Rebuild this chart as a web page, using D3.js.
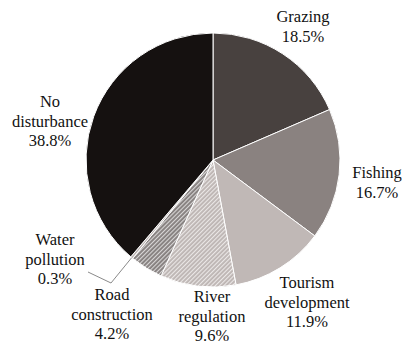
<!DOCTYPE html>
<html><head><meta charset="utf-8">
<script src="https://cdn.jsdelivr.net/npm/d3@7"></script>
<style>body{margin:0;background:#fff}svg{display:block}</style>
</head><body><svg id="c" width="402" height="345"></svg>
<script>
const categories = ["Grazing","Fishing","Tourism development","River regulation","Road construction","Water pollution","No disturbance"];
const values = [18.5,16.7,11.9,9.6,4.2,0.3,38.8];
const labelLines = [["Grazing"],["Fishing"],["Tourism","development"],["River","regulation"],["Road","construction"],["Water","pollution"],["No","disturbance"]];

// layout / style (not data)
const fills = ["#48413f","#8a8280","#c0b8b6","url(#hatchLight)","url(#hatchDark)","#bdb5b3","#151110"];
const labelAnchor = [[303,22],[377,178],[307,288],[212,302],[112,300],[55,245],[50,107]];
const cx = 213, cy = 160, R = 127, lineH = 19.5;

const svg = d3.select("#c");
const defs = svg.append("defs");
function hatch(id, bg){
  const p = defs.append("pattern").attr("id",id).attr("patternUnits","userSpaceOnUse")
    .attr("width",3).attr("height",3).attr("patternTransform","rotate(45)");
  p.append("rect").attr("width",3).attr("height",3).attr("fill",bg);
  p.append("line").attr("x1",0.6).attr("y1",0).attr("x2",0.6).attr("y2",3).attr("stroke","#ffffff").attr("stroke-width",0.9).attr("stroke-opacity",0.85);
}
hatch("hatchLight","#bdb5b3");
hatch("hatchDark","#857f7e");

const pie = d3.pie().sort(null).value(d=>d)(values);
const arc = d3.arc().innerRadius(0).outerRadius(R);
const g = svg.append("g").attr("transform",`translate(${cx},${cy})`);
g.selectAll("path").data(pie).join("path")
  .attr("d",arc).attr("fill",(d,i)=>fills[i])
  .attr("stroke","#fff").attr("stroke-width",1);

// leader line for Water pollution
const wi = categories.indexOf("Water pollution");
const wa = (pie[wi].startAngle+pie[wi].endAngle)/2;
const ex = cx + R*Math.sin(wa), ey = cy - R*Math.cos(wa);
svg.append("polyline")
  .attr("points",`${ex},${ey} 111,283 88,272`)
  .attr("fill","none").attr("stroke","#8a8a8a").attr("stroke-width",1);

const lab = svg.append("g");
categories.forEach((c,i)=>{
  const lines = labelLines[i].concat([values[i].toFixed(1)+"%"]);
  const t = lab.append("text").attr("x",labelAnchor[i][0]).attr("y",labelAnchor[i][1])
    .style("font-family",'"Liberation Serif"').attr("font-size",16.5)
    .attr("fill","#111").attr("text-anchor","middle");
  lines.forEach((l,j)=>t.append("tspan").attr("x",labelAnchor[i][0]).attr("y",labelAnchor[i][1]+j*lineH).text(l));
});
</script></body></html>
